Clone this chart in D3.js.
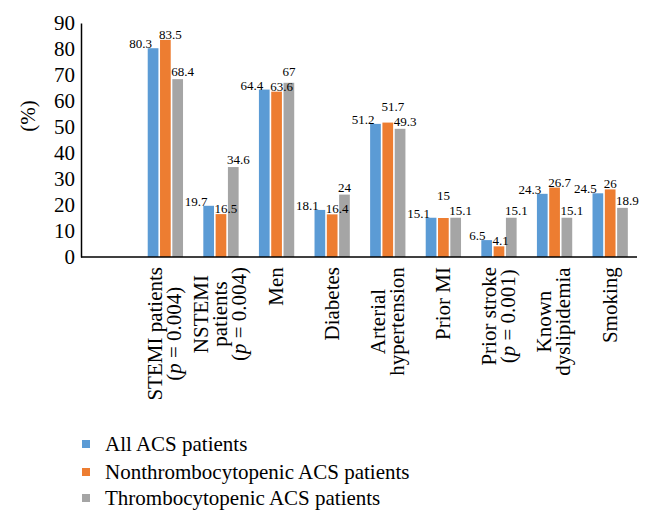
<!DOCTYPE html>
<html>
<head>
<meta charset="utf-8">
<script src="https://cdn.jsdelivr.net/npm/d3@7"></script>
<style>
  html, body { margin: 0; padding: 0; background: #fff; }
  svg { display: block; }
  text { font-family: "Liberation Serif", "Times New Roman", serif; fill: #000; }
</style>
</head>
<body>
<svg id="chart" width="650" height="526"></svg>
<script>
// ---------- data ----------
const categories = ["STEMI", "NSTEMI", "Men", "Diabetes", "Arterial hypertension", "Prior MI", "Prior stroke", "Known dyslipidemia", "Smoking"];
const categoryLines = [
  ["STEMI patients", "(p = 0.004)"],
  ["NSTEMI", "patients", "(p = 0.004)"],
  ["Men"],
  ["Diabetes"],
  ["Arterial", "hypertension"],
  ["Prior MI"],
  ["Prior stroke", "(p = 0.001)"],
  ["Known", "dyslipidemia"],
  ["Smoking"]
];
const seriesNames = ["All ACS patients", "Nonthrombocytopenic ACS patients", "Thrombocytopenic ACS patients"];
const allACS = [80.3, 19.7, 64.4, 18.1, 51.2, 15.1, 6.5, 24.3, 24.5];
const nonThrombo = [83.5, 16.5, 63.6, 16.4, 51.7, 15, 4.1, 26.7, 26];
const thrombo = [68.4, 34.6, 67, 24, 49.3, 15.1, 15.1, 15.1, 18.9];
const yTicks = [0, 10, 20, 30, 40, 50, 60, 70, 80, 90];
const colors = ["#5B9BD5", "#ED7D31", "#A5A5A5"];

const seriesValues = [allACS, nonThrombo, thrombo];

// ---------- layout ----------
const svg = d3.select("#chart");
const plotLeft = 81, plotRight = 637, plotTop = 23, plotBottom = 257;

// the category axis leaves an empty first slot
const x0 = d3.scaleBand().domain([""].concat(categories)).range([plotLeft, plotRight]).padding(0);
const x1 = d3.scaleBand().domain(d3.range(seriesNames.length))
  .range([x0.bandwidth() * 0.2, x0.bandwidth() * 0.835]).paddingInner(0.13);
const y = d3.scaleLinear().domain([0, 90]).range([plotBottom, plotTop]);

// ---------- y axis ----------
const yAxis = d3.axisLeft(y).tickValues(yTicks).tickSize(0).tickPadding(6).tickFormat(d3.format("d"));
const yg = svg.append("g").attr("transform", `translate(${plotLeft},0)`).call(yAxis);
yg.attr("font-family", null);
yg.select(".domain").attr("stroke", "#000").attr("stroke-width", 1.5);
yg.selectAll("text").attr("font-size", 21).attr("fill", "#000");

svg.append("text")
  .attr("transform", `translate(35,116) rotate(-90)`)
  .attr("text-anchor", "middle")
  .attr("font-size", 21)
  .text("(%)");

// ---------- bars ----------
const groups = svg.append("g").selectAll("g")
  .data(categories)
  .join("g")
  .attr("transform", d => `translate(${x0(d)},0)`);

groups.selectAll("rect")
  .data((d, i) => seriesValues.map((s, k) => ({ k, v: s[i] })))
  .join("rect")
  .attr("x", d => x1(d.k))
  .attr("width", x1.bandwidth())
  .attr("y", d => y(d.v))
  .attr("height", d => y(0) - y(d.v))
  .attr("fill", d => colors[d.k]);

// data labels (with simple collision avoidance like the original)
const labelAnchor = ["end", "start", "start"];
groups.each(function (c, i) {
  const g = d3.select(this);
  const items = seriesValues.map((s, k) => ({ k, v: s[i] }));
  const texts = items.map(d => g.append("text")
    .attr("class", "val")
    .attr("font-size", 13)
    .attr("text-anchor", labelAnchor[d.k])
    .attr("x", d.k === 0 ? x1(d.k) + x1.bandwidth() * 0.4 : x1(d.k) - 1)
    .attr("y", y(d.v) - (d.k === 0 ? 0 : d.k === 1 ? 1 : 3))
    .text(d.v));
  const overlap = (a, b) => {
    const A = a.node().getBBox(), B = b.node().getBBox();
    return A.x < B.x + B.width && B.x < A.x + A.width && A.y < B.y + B.height && B.y < A.y + A.height;
  };
  [[1, 2], [0, 1]].forEach(([a, b]) => {
    if (overlap(texts[a], texts[b])) {
      let up, other;
      if (Math.abs(items[a].v - items[b].v) < 0.5) { up = 1; other = a === 1 ? b : a; }
      else if (items[a].v > items[b].v) { up = a; other = b; }
      else { up = b; other = a; }
      const target = Math.min(+texts[up].attr("y"), +texts[other].attr("y") - 15);
      texts[up].attr("y", target);
    }
  });
});

// ---------- x axis line ----------
svg.append("line")
  .attr("x1", plotLeft).attr("x2", plotRight)
  .attr("y1", y(0)).attr("y2", y(0))
  .attr("stroke", "#000").attr("stroke-width", 1.5);

// ---------- category labels (rotated) ----------
const lineH = 19, labelTop = 267, catFont = 21;
categories.forEach((c, i) => {
  const cx = x0(c) + x0.bandwidth() / 2;
  const lines = categoryLines[i];
  const g = svg.append("g");
  const t = g.append("text").attr("font-size", catFont).attr("text-anchor", "middle");
  const n = lines.length;
  lines.forEach((ln, j) => {
    const dyBase = (j - (n - 1) / 2) * lineH + catFont * 0.35;
    const m = ln.match(/^\((p) (= .*)\)$/);
    if (m) {
      t.append("tspan").attr("x", 0).attr("y", dyBase).text("(");
      t.append("tspan").attr("font-style", "italic").text("p");
      t.append("tspan").text(" " + m[2] + ")");
    } else {
      t.append("tspan").attr("x", 0).attr("y", dyBase).text(ln);
    }
  });
  const w = t.node().getBBox().width;
  g.attr("transform", `translate(${cx},${labelTop + w / 2}) rotate(-90)`);
});

// ---------- legend ----------
const legendY = [451, 479, 505];
const leg = svg.append("g").selectAll("g").data(seriesNames).join("g")
  .attr("transform", (d, i) => `translate(82,${legendY[i]})`);
leg.append("rect").attr("x", 0).attr("y", -11).attr("width", 8).attr("height", 8)
  .attr("fill", (d, i) => colors[i]);
leg.append("text").attr("x", 23).attr("y", 0).attr("font-size", 21).text(d => d);
</script>
</body>
</html>
